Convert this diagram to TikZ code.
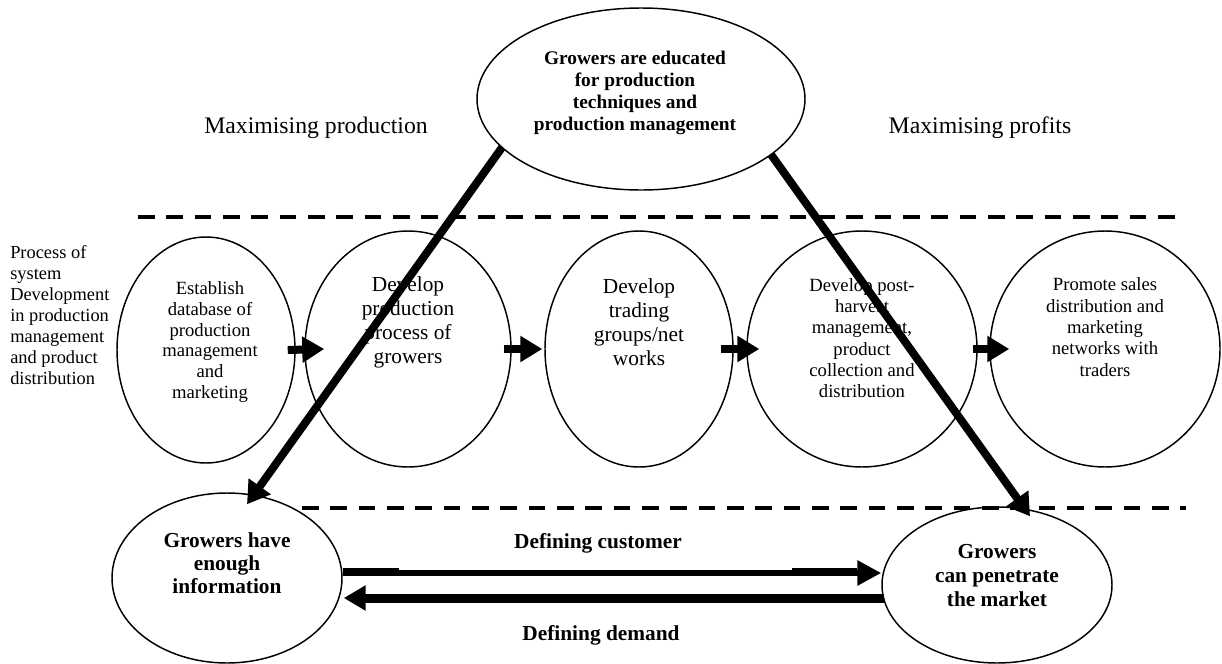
\documentclass[tikz,border=0pt]{standalone}
\usepackage{fontspec}
\setmainfont{Liberation Serif}
\usetikzlibrary{shapes.geometric,arrows.meta,calc}

\begin{document}
\begin{tikzpicture}[x=0.75pt,y=-0.75pt,
  oval/.style n args={2}{draw, ellipse, line width=1.1pt, inner sep=0pt,
    minimum width=#1*1.5pt, minimum height=#2*1.5pt},
  smalltext/.style={align=center, inner sep=0pt, font=\fontsize{14}{15.5}\selectfont},
  midtext/.style={align=center, inner sep=0pt, font=\fontsize{14}{16}\selectfont},
  bigtext/.style={align=center, inner sep=0pt, font=\fontsize{16}{18}\selectfont},
  boldtext/.style={align=center, inner sep=0pt, font=\bfseries\fontsize{16}{17.6}\selectfont},
  headtext/.style={inner sep=0pt, font=\fontsize{17.8}{20}\selectfont},
  steparrow/.style={line width=6pt, -{Triangle[length=16.5pt,width=18.75pt]}},
  diagarrow/.style={line width=6pt, -{Triangle[length=16.5pt,width=19.5pt]}},
  flowthin/.style={line width=4.5pt, -{Triangle[length=18pt,width=18pt]}},
  flowthick/.style={line width=6.75pt, -{Triangle[length=16.5pt,width=18pt]}},
  divider/.style={line width=3pt, dash pattern=on 12.5pt off 8.75pt}
]
\useasboundingbox (0,0) rectangle (1222,664);

% dashed separators
\draw[divider] (138,217) -- (1182,217);
\draw[divider] (302,508) -- (1186,508);

% ellipses
\node[oval={164}{91}] (educ) at (641,99) {};
\node[oval={89}{113}] (e1) at (206,350) {};
\node[oval={103}{118}] (e2) at (408,349) {};
\node[oval={94}{118}] (e3) at (639,349) {};
\node[oval={115}{118}] (e4) at (862,349) {};
\node[oval={115}{118}] (e5) at (1105,349) {};
\node[oval={115}{85}] (ginfo) at (227,578) {};
\node[oval={115}{78}] (gmarket) at (997,585) {};

% texts
\node[boldtext, font=\bfseries\fontsize{14.5}{16.5}\selectfont] (teduc) at (635,93)
  {Growers are educated\\for production\\techniques and\\production management};
\node[headtext] (mprod) at (316,128) {Maximising production};
\node[headtext] (mprof) at (980,128) {Maximising profits};
\node[anchor=west, align=left, inner sep=0pt, font=\fontsize{13.8}{15.75}\selectfont] (proc) at (10,315)
  {Process of\\system\\Development\\in production\\management\\and product\\distribution};
\node[smalltext] (t1) at (210,342) {Establish\\database of\\production\\management\\and\\marketing};
\node[bigtext] (t2) at (408,322) {Develop\\production\\process of\\growers};
\node[bigtext] (t3) at (639,322) {Develop\\trading\\groups/net\\works};
\node[midtext] (t4) at (862,338) {Develop post-\\harvest\\management,\\product\\collection and\\distribution};
\node[midtext] (t5) at (1105,327) {Promote sales\\distribution and\\marketing\\networks with\\traders};
\node[boldtext, font=\bfseries\fontsize{16}{17.25}\selectfont] (tinfo) at (227,563)
  {Growers have\\enough\\information};
\node[boldtext, font=\bfseries\fontsize{16}{18}\selectfont] (tmarket) at (997,576)
  {Growers\\can penetrate\\the market};
\node[boldtext] (lcust) at (598,543) {Defining customer};
\node[boldtext] (ldem) at (601,635) {Defining demand};

% process steps
\draw[steparrow] ($(e1.east)+(-8,0)$) -- ($(e2.west)+(20,0)$);
\draw[steparrow] ($(e2.east)+(-8,0)$) -- ($(e3.west)+(-2,0)$);
\draw[steparrow] ($(e3.east)+(-13,0)$) -- ($(e4.west)+(13,0)$);
\draw[steparrow] ($(e4.east)+(-5,0)$) -- ($(e5.west)+(20,0)$);

% diagonal links from education
\draw[diagarrow] ($(educ.center)+(-139,48.5)$) -- ($(ginfo.north)+(20,12)$);
\draw[diagarrow] ($(educ.center)+(130,55.5)$) -- ($(gmarket.north)+(33,10)$);

% customer / demand exchange
\draw[flowthin] ($(ginfo.east)+(0,-5)$) -- ($(gmarket.west)+(0,-12)$);
\draw[line width=6pt] ($(ginfo.east)+(0,-6)$) -- +(56,0);
\draw[line width=6pt] ($(gmarket.west)+(-89,-13)$) -- +(65,0);
\draw[flowthick] ($(gmarket.west)+(3,13)$) -- ($(ginfo.east)+(1,20)$);

\end{tikzpicture}
\end{document}
